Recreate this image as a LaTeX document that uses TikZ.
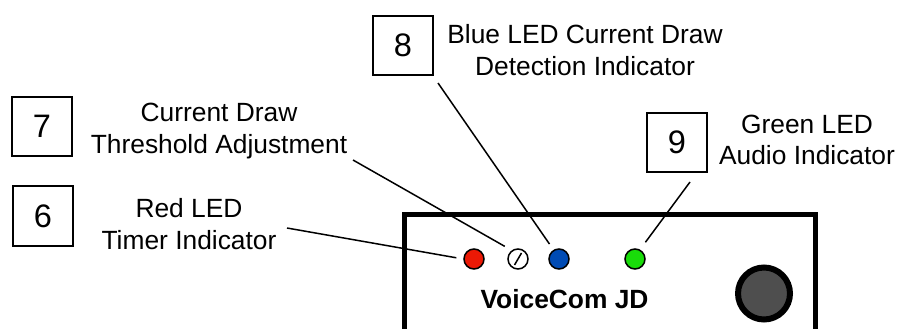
\documentclass[tikz,border=0pt]{standalone}
\usepackage{fontspec}
\setmainfont{Liberation Sans}
\usepackage{xcolor}
\usetikzlibrary{positioning, calc}
\definecolor{ledred}{RGB}{235,25,5}
\definecolor{ledblue}{RGB}{0,75,180}
\definecolor{ledgreen}{RGB}{25,220,10}
\definecolor{knobgray}{RGB}{78,78,78}

\begin{document}
\begin{tikzpicture}[x=0.02cm, y=-0.02cm,
        numbox/.style={draw, line width=0.04cm, minimum size=1.2cm, inner sep=0pt, font=\fontsize{18.5}{20}\selectfont},
        label/.style={align=center, inner sep=0pt, font=\fontsize{15}{17.9}\selectfont},
        leader/.style={line width=0.03cm},
        led/.style={circle, draw, line width=0.03cm, minimum size=0.4cm, inner sep=0pt}]
        \clip (0,0) rectangle (899,328);

        % Number boxes
        \node[numbox] (num7) at (42,126.5) {7};
        \node[numbox] (num6) at (43,216) {6};
        \node[numbox] (num8) at (403,45.5) {8};
        \node[numbox] (num9) at (677,142.5) {9};

        % Labels
        \node[label] (lbl7) at (219,131) {Current Draw\\Threshold Adjustment};
        \node[label] (lbl6) at (189,224) {Red LED\\Timer Indicator};
        \node[label] (lbl8) at (585,50) {Blue LED Current Draw\\Detection Indicator};
        \node[label] (lbl9) at (807,140) {Green LED\\Audio Indicator};

        % Unit
        \draw[line width=0.1cm] (815.5,340) |- (404.5,214.5) -- (404.5,340);
        \node[font=\fontsize{15}{17}\selectfont\bfseries] (unit) at (564.5,299) {VoiceCom JD};
        \node[circle, draw, line width=0.12cm, fill=knobgray, minimum size=1.04cm, inner sep=0pt] (knob) at (764,293.5) {};

        % LEDs
        \node[led, fill=ledred] (redled) at (474,259) {};
        \node[led, fill=white] (adj) at (518,259) {};
        \draw[leader] ($(adj)+(-3.5,6)$) -- ($(adj)+(3.5,-6)$);
        \node[led, fill=ledblue] (blueled) at (559,259) {};
        \node[led, fill=ledgreen] (greenled) at (635,259) {};

        % Leader lines
        \coordinate (s6) at (287,228);
        \coordinate (s7) at (353,160);
        \coordinate (s8) at (438,83);
        \coordinate (s9) at (690,182);
        \draw[leader, shorten >=7*0.02cm] (s6) -- (redled.180);
        \draw[leader, shorten >=8*0.02cm] (s7) -- (adj.126);
        \draw[leader, shorten >=7*0.02cm] (s8) -- (blueled.121);
        \draw[leader, shorten >=9*0.02cm] (s9) -- (greenled.62);
\end{tikzpicture}
\end{document}
